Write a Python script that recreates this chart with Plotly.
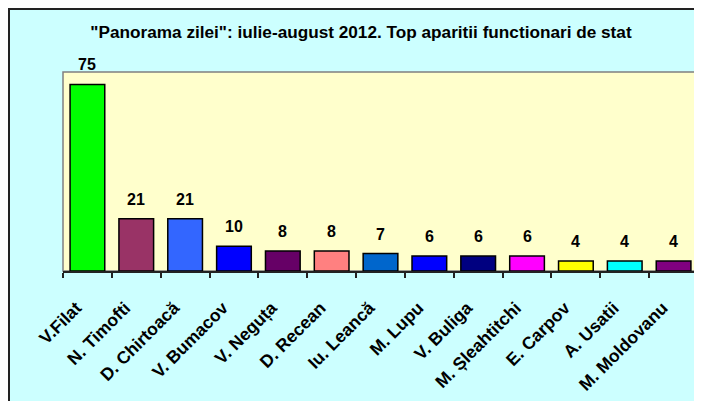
import plotly.graph_objects as go

names = ["V.Filat", "N. Timofti", "D. Chirtoacă", "V. Bumacov", "V. Neguța", "D. Recean",
         "Iu. Leancă", "M. Lupu", "V. Buliga", "M. Șleahtitchi", "E. Carpov", "A. Usatii", "M. Moldovanu"]
values = [75, 21, 21, 10, 8, 8, 7, 6, 6, 6, 4, 4, 4]
colors = ["#00FF00", "#993366", "#3366FF", "#0000FF", "#660066", "#FF8080",
          "#0066CC", "#0000FF", "#000080", "#FF00FF", "#FFFF00", "#00FFFF", "#800080"]
title = "\"Panorama zilei\": iulie-august 2012. Top aparitii functionari de stat"

# page body has an 8px margin, so the figure is laid out in figure pixels = window pixels - 8
W, H = 694, 393
ML, MR, MT, MB = 55, 4, 64, 130
PW, PH = W - ML - MR, H - MT - MB

def px(x):
    return (x - ML) / PW

def py(y):
    return (H - MB - y) / PH

fig = go.Figure(go.Bar(
    x=names, y=values,
    marker=dict(color=colors, line=dict(color="black", width=1.5)),
    width=0.71,
    hoverinfo="x+y",
))

annotations = [
    dict(x=n, y=v, xref="x", yref="y", text=str(v), showarrow=False,
         yanchor="bottom", yshift=9,
         font=dict(family="Arial, Liberation Sans, sans-serif", size=16, color="black", weight="bold"))
    for n, v in zip(names, values)
]

frame = dict(color="#222222", width=2)
shapes = [
    dict(type="rect", xref="x domain", yref="y domain", x0=0, x1=1, y0=0, y1=1,
         fillcolor="#FFFFCC", line=dict(color="#808080", width=1.5), layer="below"),
    dict(type="line", xref="paper", yref="paper", x0=px(0), x1=px(W + 20), y0=py(1), y1=py(1), line=frame),
    dict(type="line", xref="paper", yref="paper", x0=px(1), x1=px(1), y0=py(0), y1=py(H + 20), line=frame),
]

fig.update_layout(
    width=W, height=H,
    margin=dict(l=ML, r=MR, t=MT, b=MB, pad=0, autoexpand=False),
    paper_bgcolor="#CCFFFF",
    plot_bgcolor="rgba(0,0,0,0)",
    showlegend=False,
    title=dict(text=title, x=353 / W, xanchor="center", y=1 - 24 / H, yanchor="middle", automargin=False,
               font=dict(family="Arial, Liberation Sans, sans-serif", size=17.2, color="black", weight="bold")),
    annotations=annotations,
    shapes=shapes,
    bargap=0.29,
    xaxis=dict(
        type="category", tickangle=-45, tickson="boundaries", ticks="outside", ticklen=5,
        tickcolor="#222222", tickwidth=1.5, showline=True, linecolor="#222222", linewidth=1.5,
        showgrid=False, ticklabelstandoff=18, ticklabelshift=-11, automargin=False,
        tickfont=dict(family="Arial, Liberation Sans, sans-serif", size=17.5, color="black", weight="bold"),
    ),
    yaxis=dict(range=[0, 80], showticklabels=False, showgrid=False, zeroline=False, ticks="",
               showline=False, automargin=False),
)

fig.write_html("out.html")
